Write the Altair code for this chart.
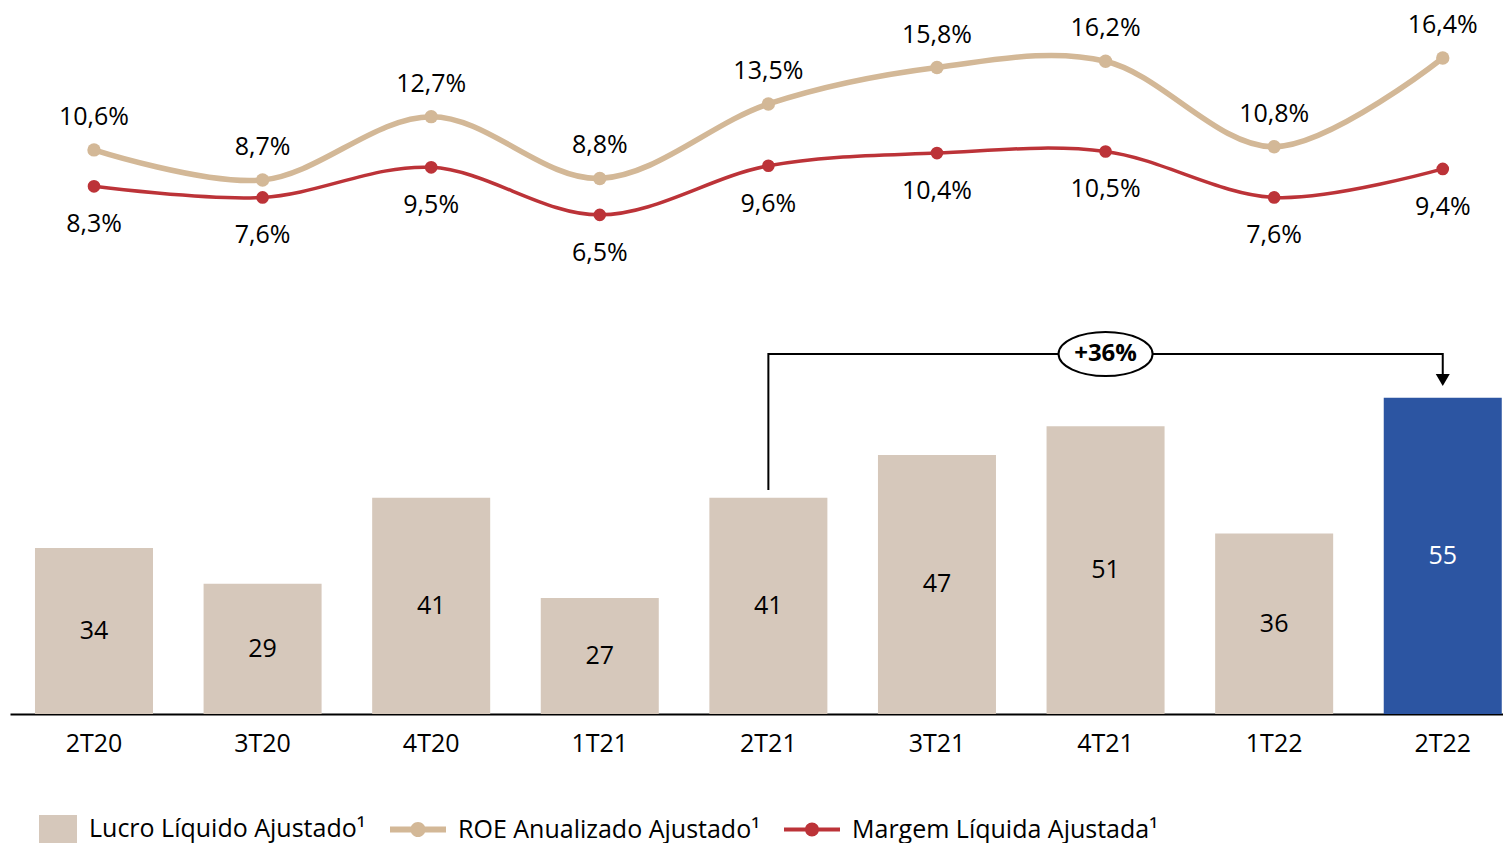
import altair as alt
import pandas as pd

# ---------------- data ----------------
quarters = ["2T20", "3T20", "4T20", "1T21", "2T21", "3T21", "4T21", "1T22", "2T22"]
lucro = [34, 29, 41, 27, 41, 47, 51, 36, 55]
roe = [10.6, 8.7, 12.7, 8.8, 13.5, 15.8, 16.2, 10.8, 16.4]
margem = [8.3, 7.6, 9.5, 6.5, 9.6, 10.4, 10.5, 7.6, 9.4]
series = ["Lucro Líquido Ajustado¹", "ROE Anualizado Ajustado¹", "Margem Líquida Ajustada¹"]
highlight = "2T22"
growth_from = "2T21"
growth_mid = "4T21"
growth_label = "+36%"

# ---------------- styles / layout ----------------
BEIGE = "#D6C8BB"
TAN = "#D3B897"
RED = "#BC3338"
BLUE = "#2C55A2"
FONT = "Open Sans"

W, H = 1501, 702
BAR_BASE, BAR_TOP = 10.77, 108.95          # bar scale domain (axis not starting at zero)
PCT_LO, PCT_HI = -25.01, 19.306            # shared scale of both % lines
BRACKET_LOW, BRACKET_LEVEL, ARROW_AT = 42.1, 61.12, 57.48

bar_y = alt.Scale(domain=[BAR_BASE, BAR_TOP], zero=False, nice=False)
pct_y = alt.Scale(domain=[PCT_LO, PCT_HI], zero=False, nice=False)

x_enc = alt.X(
    "q:N",
    sort=quarters,
    scale=alt.Scale(domain=quarters, paddingInner=0.3, paddingOuter=0.1015, align=0.73),
    axis=alt.Axis(title=None, labelFontSize=25, labelColor="black", labelPadding=17,
                  ticks=False, tickSize=0, domainColor="black", domainWidth=2,
                  labelAngle=0, grid=False, labelFont=FONT),
)

# legend symbols (custom paths)
SQ_PATH = "M -0.357 -0.5 L 1 -0.5 L 1 0.5 L -0.357 0.5 Z"
ROE_PATH = ("M -1 -0.107 L 1 -0.107 L 1 0.107 L -1 0.107 Z "
            "M 0.27 0 A 0.27 0.27 0 1 1 -0.27 0 A 0.27 0.27 0 1 1 0.27 0 Z")
MRG_PATH = ("M -1 -0.07 L 1 -0.07 L 1 0.07 L -1 0.07 Z "
            "M 0.25 0 A 0.25 0.25 0 1 1 -0.25 0 A 0.25 0.25 0 1 1 0.25 0 Z")
ELLIPSE_PATH = "M -1 0 A 1 0.468 0 1 1 1 0 A 1 0.468 0 1 1 -1 0 Z"

legend = alt.Legend(title=None, orient="none", legendX=11, legendY=789, direction="horizontal",
                    labelFontSize=25, labelColor="black", labelFont=FONT, symbolSize=3136,
                    labelOffset=12, columnPadding=24, symbolStrokeWidth=0, symbolOpacity=1,
                    labelLimit=0)
color_scale = alt.Scale(domain=series, range=[BEIGE, TAN, RED])
shape_scale = alt.Scale(domain=series, range=[SQ_PATH, ROE_PATH, MRG_PATH])

# ---------------- tables ----------------
bar_df = pd.DataFrame({"q": quarters, "lucro": lucro, "serie": series[0]})
line_df = pd.concat([
    pd.DataFrame({"q": quarters, "v": roe, "serie": series[1]}),
    pd.DataFrame({"q": quarters, "v": margem, "serie": series[2]}),
], ignore_index=True)
bracket_df = pd.DataFrame({
    "q": [growth_from, growth_from, highlight, highlight],
    "v": [BRACKET_LOW, BRACKET_LEVEL, BRACKET_LEVEL, ARROW_AT],
    "o": [0, 1, 2, 3],
})
arrow_df = pd.DataFrame({"q": [highlight], "v": [ARROW_AT]})
badge_df = pd.DataFrame({"q": [growth_mid], "v": [BRACKET_LEVEL], "t": [growth_label]})

# ---------------- layers ----------------
bars = alt.Chart(bar_df).transform_calculate(base=f"{BAR_BASE}").mark_bar().encode(
    x=x_enc,
    y=alt.Y("lucro:Q", scale=bar_y, axis=None),
    y2="base:Q",
    color=alt.condition(alt.datum.q == highlight, alt.value(BLUE),
                        alt.Color("serie:N", scale=color_scale, legend=legend)),
)

bar_text = alt.Chart(bar_df).transform_calculate(
    mid=f"(datum.lucro + {BAR_BASE}) / 2", lbl="format(datum.lucro, 'd')"
).mark_text(fontSize=25, font=FONT, baseline="middle").encode(
    x=x_enc,
    y=alt.Y("mid:Q", scale=bar_y, axis=None),
    text="lbl:N",
    color=alt.condition(alt.datum.q == highlight, alt.value("white"), alt.value("black")),
)

lines = alt.Chart(line_df).mark_line(interpolate="cardinal", tension=0).encode(
    x=x_enc,
    y=alt.Y("v:Q", scale=pct_y, axis=None),
    color=alt.Color("serie:N", scale=color_scale, legend=legend),
    strokeWidth=alt.StrokeWidth("serie:N", scale=alt.Scale(domain=series[1:], range=[5.5, 3.5]), legend=None),
    detail="serie:N",
)

points = alt.Chart(line_df).mark_point(filled=True, opacity=1).encode(
    x=x_enc,
    y=alt.Y("v:Q", scale=pct_y, axis=None),
    color=alt.Color("serie:N", scale=color_scale, legend=legend),
    size=alt.Size("serie:N", scale=alt.Scale(domain=series[1:], range=[180, 160]), legend=None),
)

legend_shapes = alt.Chart(line_df).transform_filter("false").mark_point(filled=True, opacity=1).encode(
    x=x_enc,
    y=alt.Y("v:Q", scale=pct_y, axis=None),
    color=alt.Color("serie:N", scale=color_scale, legend=legend),
    shape=alt.Shape("serie:N", scale=shape_scale, legend=legend),
)

pct_label = "replace(format(datum.v, '.1f'), '.', ',') + '%'"
roe_text = alt.Chart(line_df).transform_filter(alt.datum.serie == series[1]).transform_calculate(
    lbl=pct_label
).mark_text(fontSize=25, font=FONT, dy=-33, color="black").encode(
    x=x_enc, y=alt.Y("v:Q", scale=pct_y, axis=None), text="lbl:N")

mrg_text = alt.Chart(line_df).transform_filter(alt.datum.serie == series[2]).transform_calculate(
    lbl=pct_label
).mark_text(fontSize=25, font=FONT, dy=38, color="black").encode(
    x=x_enc, y=alt.Y("v:Q", scale=pct_y, axis=None), text="lbl:N")

bracket = alt.Chart(bracket_df).mark_line(color="black", strokeWidth=2).encode(
    x=x_enc, y=alt.Y("v:Q", scale=bar_y, axis=None), order="o:Q")

arrow = alt.Chart(arrow_df).mark_point(shape="triangle-down", filled=True, color="black",
                                       opacity=1, size=196).encode(
    x=x_enc, y=alt.Y("v:Q", scale=bar_y, axis=None))

badge = alt.Chart(badge_df).mark_point(shape=ELLIPSE_PATH, size=8836, fill="white", stroke="black",
                                       strokeWidth=2, opacity=1, fillOpacity=1).encode(
    x=x_enc, y=alt.Y("v:Q", scale=bar_y, axis=None))

badge_text = alt.Chart(badge_df).mark_text(fontSize=24, font=FONT, fontWeight="bold",
                                           color="black", baseline="middle").encode(
    x=x_enc, y=alt.Y("v:Q", scale=bar_y, axis=None), text="t:N")

chart = alt.layer(
    bars, bar_text, lines, points, legend_shapes, roe_text, mrg_text,
    bracket, arrow, badge, badge_text,
).resolve_scale(y="independent").properties(
    width=W, height=H, padding={"left": 2, "top": 4, "right": -8, "bottom": 0}
).configure(font=FONT).configure_view(stroke=None)

chart.save("out.html", embed_options={"renderer": "svg", "actions": False})
